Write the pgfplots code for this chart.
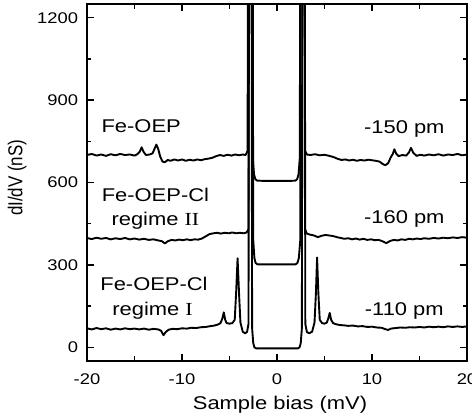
\documentclass[border=0pt]{standalone}
\usepackage{fontspec}
\setmainfont[FakeStretch=1.19]{Liberation Sans}
\newfontfamily\romanfont[FakeStretch=1.19]{Liberation Serif}
\newfontfamily\plainsans{Liberation Sans}
\usepackage{graphicx}
\usepackage{pgfplots}
\pgfplotsset{compat=1.18}
\tikzset{lbl/.style={anchor=base, font=\fontsize{18.5}{22}\selectfont, inner sep=0pt}}
\begin{document}
\begin{tikzpicture}
\begin{axis}[
  width=380bp, height=357bp, scale only axis,
  line width=1.4pt,
  xmin=-20, xmax=20, ymin=-50, ymax=1250,
  xtick={-20,-10,0,10,20}, xticklabels={-20,-10,0,10,20},
  ytick={0,300,600,900,1200}, yticklabels={0,300,600,900,1200},
  minor xtick={-15,-5,5,15}, minor ytick={150,450,750,1050},
  major tick length=7pt, minor tick length=4.5pt,
  major tick style={black, line width=1.4pt},
  minor tick style={black, line width=1.4pt},
  tick label style={font=\fontsize{15.5}{18}\selectfont},
  xticklabel style={yshift=-9bp},
  yticklabel style={xshift=-5bp},
  xlabel={Sample bias (mV)},
  xlabel style={at={(axis description cs:0.508,-0.1345)}, anchor=base, font=\fontsize{18.5}{22}\selectfont},
  ylabel={\plainsans\fontsize{17}{20}\selectfont\scalebox{1}[1.19]{dI/dV (nS)}},
  ylabel style={at={(axis description cs:-0.184,0.513)}, anchor=center},
]
% Fe-OEP (-150 pm)
\addplot[black, line width=1.9pt, line join=round, mark=none] coordinates {(-20,700) (-19.5,704) (-19,698) (-18.5,702) (-18,697) (-17.5,703) (-17,699) (-16.5,704) (-16,700) (-15.5,702) (-15,698) (-14.7,703) (-14.45,712) (-14.25,728) (-14.05,712) (-13.8,700) (-13.4,702) (-13.1,706) (-12.9,722) (-12.7,738) (-12.5,722) (-12.3,695) (-12.05,676) (-11.8,674) (-11.5,682) (-11.2,679) (-10.8,684) (-10.4,680) (-10,684) (-9.6,679) (-9.2,683) (-8.8,680) (-8.4,684) (-8,681) (-7.6,685) (-7.2,687) (-6.8,690) (-6.4,696) (-6,700) (-5.6,697) (-5.2,701) (-4.8,698) (-4.4,702) (-4,699) (-3.6,702) (-3.3,700) (-3.1,715) (-2.78,5000) (-2.55,690) (-2.42,630) (-2.28,612) (-2.1,607) (-1.5,606) (-1,606) (0,606) (1,606) (1.5,606) (1.95,607) (2.12,612) (2.27,630) (2.4,690) (2.65,5000) (2.95,715) (3.15,702) (3.5,700) (4,703) (4.5,699) (5,701) (5.5,697) (6,692) (6.4,686) (6.8,682) (7.2,684) (7.6,680) (8,683) (8.4,679) (8.8,682) (9.2,680) (9.6,683) (10,681) (10.4,679) (10.8,676) (11.1,668) (11.4,663) (11.7,670) (11.95,690) (12.2,705) (12.35,721) (12.55,705) (12.8,696) (13.2,700) (13.6,698) (13.9,710) (14.1,726) (14.35,708) (14.7,697) (15.1,701) (15.5,698) (16,702) (16.5,699) (17,703) (17.5,698) (18,702) (18.5,700) (19,704) (19.5,699) (20,702)};
% Fe-OEP-Cl regime II (-160 pm)
\addplot[black, line width=1.9pt, line join=round, mark=none] coordinates {(-20,398) (-19.5,394) (-19,399) (-18.5,395) (-18,398) (-17.5,393) (-17,397) (-16.5,394) (-16,398) (-15.5,393) (-15,396) (-14.5,392) (-14,395) (-13.5,391) (-13,393) (-12.5,389) (-12.1,386) (-11.8,378) (-11.5,386) (-11.1,391) (-10.7,389) (-10.3,392) (-9.9,390) (-9.5,393) (-9.1,390) (-8.7,393) (-8.3,392) (-7.9,396) (-7.5,404) (-7.1,412) (-6.7,415) (-6.3,417) (-5.9,414) (-5.5,417) (-5.1,415) (-4.7,418) (-4.3,415) (-3.9,417) (-3.5,415) (-3.2,418) (-3.0,430) (-2.75,5000) (-2.5,390) (-2.38,325) (-2.25,307) (-2.05,302) (0,302) (1.95,302) (2.15,307) (2.3,325) (2.45,390) (2.7,5000) (2.95,430) (3.15,414) (3.5,410) (3.9,407) (4.3,401) (4.7,406) (5.1,409) (5.5,407) (5.9,405) (6.3,401) (6.7,398) (7.1,395) (7.5,397) (7.9,393) (8.3,396) (8.7,392) (9.1,395) (9.5,391) (9.9,393) (10.3,390) (10.7,391) (11.1,386) (11.5,379) (11.9,387) (12.3,391) (12.7,389) (13.1,393) (13.5,391) (13.9,395) (14.3,393) (14.7,396) (15.1,394) (15.5,397) (16,395) (16.5,398) (17,396) (17.5,399) (18,397) (18.5,400) (19,398) (19.5,401) (20,399)};
% Fe-OEP-Cl regime I (-110 pm)
\addplot[black, line width=1.9pt, line join=round, mark=none] coordinates {(-20,69) (-19.5,65) (-19,70) (-18.5,66) (-18,69) (-17.5,64) (-17,68) (-16.5,65) (-16,69) (-15.5,66) (-15,68) (-14.5,65) (-14,68) (-13.5,64) (-13,67) (-12.5,65) (-12.2,60) (-11.95,44) (-11.7,56) (-11.4,64) (-11,67) (-10.5,66) (-10,69) (-9.5,68) (-9,71) (-8.5,70) (-8,73) (-7.5,74) (-7,77) (-6.6,79) (-6.2,83) (-5.95,88) (-5.75,105) (-5.6,127) (-5.45,100) (-5.3,88) (-5.0,86) (-4.7,88) (-4.45,100) (-4.3,200) (-4.15,324) (-4.0,200) (-3.85,90) (-3.6,56) (-3.35,51) (-3.15,56) (-3.0,85) (-2.82,5000) (-2.62,70) (-2.5,15) (-2.38,0) (-2.2,-4) (0,-4) (2.2,-4) (2.38,0) (2.5,15) (2.62,70) (2.8,5000) (2.98,85) (3.15,55) (3.4,51) (3.7,57) (3.95,90) (4.1,200) (4.22,327) (4.35,200) (4.5,100) (4.75,88) (5.0,86) (5.25,90) (5.4,105) (5.55,125) (5.7,100) (5.9,88) (6.2,84) (6.6,81) (7,80) (7.5,78) (8,79) (8.5,76) (9,77) (9.5,74) (10,75) (10.5,72) (11,71) (11.4,66) (11.7,63) (12,68) (12.5,70) (13,72) (13.5,71) (14,73) (14.5,72) (15,74) (15.5,72) (16,75) (16.5,73) (17,75) (17.5,73) (18,76) (18.5,74) (19,76) (19.5,74) (20,76)};
% tick marks on all four sides (inward)
\draw[black, line width=1.4pt]
  (axis cs:-10,-50) -- (axis cs:-10,-24.5) (axis cs:0,-50) -- (axis cs:0,-24.5) (axis cs:10,-50) -- (axis cs:10,-24.5)
  (axis cs:-10,1250) -- (axis cs:-10,1224.5) (axis cs:0,1250) -- (axis cs:0,1224.5) (axis cs:10,1250) -- (axis cs:10,1224.5)
  (axis cs:-15,-50) -- (axis cs:-15,-33.6) (axis cs:-5,-50) -- (axis cs:-5,-33.6) (axis cs:5,-50) -- (axis cs:5,-33.6) (axis cs:15,-50) -- (axis cs:15,-33.6)
  (axis cs:-15,1250) -- (axis cs:-15,1233.4) (axis cs:-5,1250) -- (axis cs:-5,1233.4) (axis cs:5,1250) -- (axis cs:5,1233.4) (axis cs:15,1250) -- (axis cs:15,1233.4)
  (axis cs:-20,0) -- (axis cs:-19.263,0) (axis cs:-20,300) -- (axis cs:-19.263,300) (axis cs:-20,600) -- (axis cs:-19.263,600) (axis cs:-20,900) -- (axis cs:-19.263,900) (axis cs:-20,1200) -- (axis cs:-19.263,1200)
  (axis cs:20,0) -- (axis cs:19.263,0) (axis cs:20,300) -- (axis cs:19.263,300) (axis cs:20,600) -- (axis cs:19.263,600) (axis cs:20,900) -- (axis cs:19.263,900) (axis cs:20,1200) -- (axis cs:19.263,1200)
  (axis cs:-20,150) -- (axis cs:-19.53,150) (axis cs:-20,450) -- (axis cs:-19.53,450) (axis cs:-20,750) -- (axis cs:-19.53,750) (axis cs:-20,1050) -- (axis cs:-19.53,1050)
  (axis cs:20,150) -- (axis cs:19.53,150) (axis cs:20,450) -- (axis cs:19.53,450) (axis cs:20,750) -- (axis cs:19.53,750) (axis cs:20,1050) -- (axis cs:19.53,1050);
\node[lbl] at (axis cs:-14.3,782) {Fe-OEP};
\node[lbl] at (axis cs:-12.8,530) {Fe-OEP-Cl};
\node[lbl] at (axis cs:-12.8,445) {regime {\romanfont II}};
\node[lbl] at (axis cs:-12.95,208) {Fe-OEP-Cl};
\node[lbl] at (axis cs:-13.1,117) {regime {\romanfont I}};
\node[lbl] at (axis cs:13.4,780) {-150 pm};
\node[lbl] at (axis cs:13.4,452) {-160 pm};
\node[lbl] at (axis cs:13.4,117) {-110 pm};
\end{axis}
\pgfresetboundingbox
\path[use as bounding box] (-87bp,-58bp) rectangle (385bp,361bp);
\end{tikzpicture}
\end{document}
